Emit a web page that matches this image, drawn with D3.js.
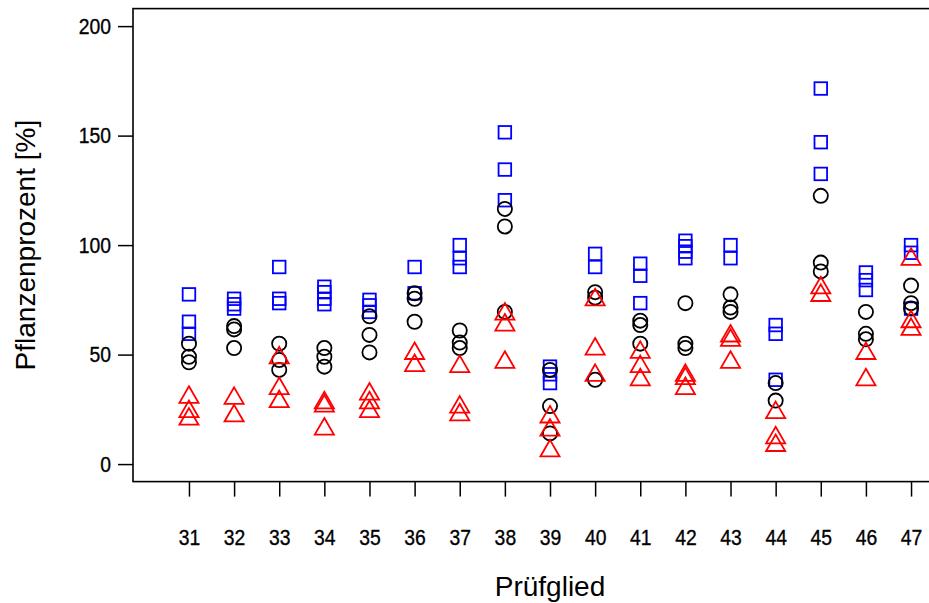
<!DOCTYPE html>
<html>
<head>
<meta charset="utf-8">
<script src="https://cdn.jsdelivr.net/npm/d3@7"></script>
<style>
  html, body { margin: 0; padding: 0; background: #fff; }
  svg { display: block; font-family: "Liberation Sans", Arial, sans-serif; }
</style>
</head>
<body>
<svg id="chart" width="929" height="603"></svg>
<script>
const categories = [31, 32, 33, 34, 35, 36, 37, 38, 39, 40, 41, 42, 43, 44, 45, 46, 47];
const yTicks = [0, 50, 100, 150, 200];

// blue squares
const blueSquares = [
  [77.5, 65, 59.5],
  [75.5, 73, 71],
  [90, 75.5, 73.5],
  [81, 78.5, 75.5, 73],
  [75, 72.5, 69.5],
  [90, 78],
  [100, 94, 90],
  [151.5, 134.5, 120.5],
  [44.5, 41, 37],
  [96, 90],
  [91.5, 86, 73.5],
  [102, 99.5, 97, 94],
  [100, 94],
  [63.5, 59.5, 38.5],
  [171.5, 147, 132.5],
  [87.5, 84, 79.5],
  [100, 96.5, 71]
];
// black circles
const blackCircles = [
  [55, 49, 46.5],
  [63, 61.5, 53],
  [55, 47.5, 43],
  [53, 49, 44.5],
  [67.5, 59, 51],
  [78, 75.5, 65],
  [61, 55.5, 53],
  [116.5, 108.5, 69.5],
  [43, 26.5, 14],
  [78.5, 76, 38.5],
  [65.5, 63.5, 55],
  [73.5, 55, 53],
  [77.5, 71.5, 69.5],
  [37, 29],
  [122.5, 92, 88],
  [69.5, 59.5, 57],
  [81.5, 73.5, 71]
];
// red triangles
const redTriangles = [
  [30.5, 24, 20.5],
  [30, 22],
  [48.5, 34.5, 28.5],
  [28, 26.5, 16],
  [32, 28, 24],
  [50.5, 45],
  [44.5, 26, 22.5],
  [68.5, 63.5, 46.5],
  [21.5, 15.5, 6],
  [75, 52.5, 40.5],
  [51, 44.5, 38.5],
  [40.5, 39, 34.5],
  [58.5, 56.5, 46.5],
  [23.5, 12, 8.5],
  [80.5, 77],
  [50.5, 38.5],
  [93.5, 65, 61.5]
];

const svg = d3.select("#chart");
const mLeft = 133, mRight = 967, mTop = 8.6, mBottom = 481.6;

const x = d3.scaleLinear().domain([29.76, 48.24]).range([mLeft, mRight]);
const y = d3.scaleLinear().domain([-8, 208]).range([mBottom, mTop]);

const R = 7.1;
const sq = 1.772 * R;
const tr = 1.5551 * R, th = 1.3468 * R;
const sw = 1.8;
const tickFont = 22.5, tickSX = 0.86;

function flat(series) {
  const out = [];
  series.forEach((vals, i) => vals.forEach(v => out.push({ c: categories[i], v })));
  return out;
}

const g = svg.append("g");

// squares
g.selectAll("rect.sq").data(flat(blueSquares)).enter().append("rect")
  .attr("class", "sq")
  .attr("x", d => x(d.c) - sq / 2)
  .attr("y", d => y(d.v) - sq / 2)
  .attr("width", sq).attr("height", sq)
  .attr("fill", "none").attr("stroke", "#0000ff").attr("stroke-width", sw);

// circles
g.selectAll("circle.ci").data(flat(blackCircles)).enter().append("circle")
  .attr("class", "ci")
  .attr("cx", d => x(d.c)).attr("cy", d => y(d.v)).attr("r", R)
  .attr("fill", "none").attr("stroke", "#000").attr("stroke-width", sw);

// triangles
g.selectAll("path.tr").data(flat(redTriangles)).enter().append("path")
  .attr("class", "tr")
  .attr("d", d => {
    const cx = x(d.c), cy = y(d.v);
    return `M${cx},${cy - tr}L${cx + th},${cy + tr / 2}L${cx - th},${cy + tr / 2}Z`;
  })
  .attr("fill", "none").attr("stroke", "#ff0000").attr("stroke-width", sw);

// box
svg.append("rect")
  .attr("x", mLeft).attr("y", mTop)
  .attr("width", mRight - mLeft).attr("height", mBottom - mTop)
  .attr("fill", "none").attr("stroke", "#000").attr("stroke-width", 1.6);

// y axis
const yAxis = svg.append("g")
  .attr("transform", `translate(${mLeft},0)`)
  .call(d3.axisLeft(y).tickValues(yTicks).tickSize(15).tickPadding(7).tickFormat(d3.format("d")));
yAxis.select(".domain").remove();
yAxis.selectAll("line").attr("stroke", "#000").attr("stroke-width", 1.5);
yAxis.selectAll("text")
  .attr("font-size", tickFont).attr("fill", "#000")
  .attr("stroke", "#000").attr("stroke-width", 0.35)
  .attr("x", -22 / tickSX)
  .attr("transform", `scale(${tickSX},1)`)
  .style("font-family", "'Liberation Sans', Arial, sans-serif");

// x axis
const xAxis = svg.append("g")
  .attr("transform", `translate(0,${mBottom})`)
  .call(d3.axisBottom(x).tickValues(categories).tickSize(15).tickPadding(32).tickFormat(d3.format("d")));
xAxis.select(".domain").remove();
xAxis.selectAll("line").attr("stroke", "#000").attr("stroke-width", 1.5);
xAxis.selectAll("text")
  .attr("font-size", tickFont).attr("fill", "#000")
  .attr("stroke", "#000").attr("stroke-width", 0.35)
  .attr("transform", `scale(${tickSX},1)`)
  .style("font-family", "'Liberation Sans', Arial, sans-serif");

// titles
svg.append("text")
  .attr("x", (mLeft + mRight) / 2).attr("y", 596)
  .attr("text-anchor", "middle").attr("font-size", 28).attr("fill", "#000")
  .text("Prüfglied");

svg.append("text")
  .attr("transform", `translate(35,${(mTop + mBottom) / 2}) rotate(-90)`)
  .attr("text-anchor", "middle").attr("font-size", 28).attr("fill", "#000")
  .text("Pflanzenprozent [%]");
</script>
</body>
</html>
